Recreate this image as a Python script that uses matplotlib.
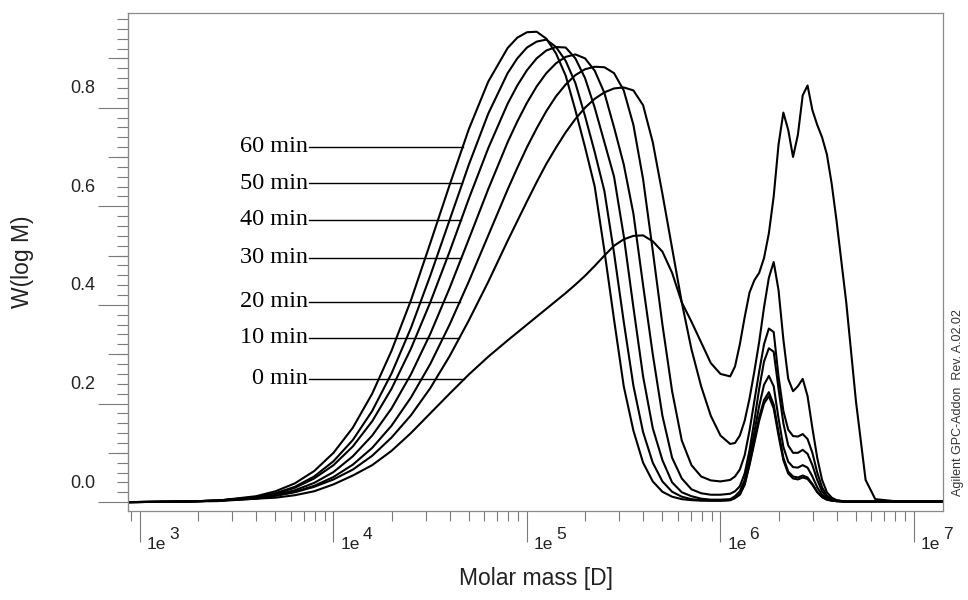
import matplotlib
matplotlib.use("Agg")
import matplotlib.pyplot as plt
import matplotlib.transforms as mtransforms
import numpy as np
from matplotlib.ticker import FixedLocator, LogLocator, MultipleLocator, NullFormatter

# log10 of molar mass, shared by all traces
log_mass = [
    2.94, 3.2, 3.4, 3.6, 3.7, 3.8, 3.9, 4.0, 4.1, 4.2, 4.3, 4.4, 4.5, 4.6, 4.7, 4.8, 4.9,
    4.95, 5.0, 5.05, 5.1, 5.15, 5.2, 5.25, 5.3, 5.35, 5.4, 5.45, 5.5, 5.55, 5.6, 5.65,
    5.7, 5.75, 5.8, 5.85, 5.9, 5.95, 6.0, 6.05,
    6.075, 6.1, 6.125, 6.15, 6.175, 6.2, 6.225, 6.25, 6.275, 6.3, 6.325, 6.35, 6.375,
    6.4, 6.425, 6.45, 6.475, 6.5, 6.525, 6.55, 6.575, 6.6,
    6.65, 6.7, 6.75, 6.8, 6.9, 7.15,
]

w_60 = [
    .000, .001, .003, .012, .022, .038, .063, .100, .151, .220, .307, .409, .525, .643, .757, .853, .921,
    .942, .953, .954, .940, .910, .865, .795, .720, .640, .510, .370, .235, .145, .080, .042,
    .021, .011, .006, .004, .003, .003, .003, .004,
    .008, .015, .035, .075, .120, .165, .200, .215, .190, .135, .085, .058, .048,
    .046, .050, .047, .035, .020, .010, .005, .003, .002,
    .001, .001, .001, .001, .001, .001,
]
w_50 = [
    .000, .001, .003, .010, .018, .031, .052, .083, .126, .185, .261, .353, .459, .572, .685, .788, .870,
    .900, .922, .934, .938, .923, .895, .850, .783, .710, .631, .505, .366, .236, .142, .080,
    .042, .021, .011, .006, .004, .003, .003, .004,
    .009, .016, .037, .078, .125, .172, .207, .223, .198, .142, .090, .062, .052,
    .050, .054, .050, .037, .021, .011, .005, .003, .002,
    .001, .001, .001, .001, .001, .001,
]
w_40 = [
    .000, .001, .003, .010, .017, .029, .048, .075, .113, .164, .230, .311, .405, .508, .616, .718, .808,
    .845, .876, .900, .916, .923, .922, .900, .860, .800, .730, .660, .540, .395, .255, .150,
    .085, .040, .020, .012, .007, .005, .005, .006,
    .012, .022, .045, .090, .142, .195, .238, .256, .235, .170, .112, .082, .071,
    .070, .075, .070, .052, .030, .015, .007, .004, .002,
    .001, .001, .001, .001, .001, .001,
]
w_30 = [
    .000, .001, .003, .008, .015, .024, .039, .061, .093, .135, .190, .259, .341, .434, .534, .635, .730,
    .772, .810, .843, .870, .890, .903, .908, .900, .875, .830, .760, .685, .585, .440, .300,
    .175, .090, .048, .026, .018, .015, .015, .017,
    .022, .032, .058, .105, .165, .230, .285, .312, .305, .230, .160, .115, .100,
    .100, .106, .098, .075, .045, .022, .010, .005, .003,
    .001, .001, .001, .001, .001, .001,
]
w_20 = [
    .000, .001, .002, .007, .013, .021, .033, .051, .076, .110, .155, .212, .280, .360, .448, .541, .634,
    .678, .720, .758, .793, .823, .847, .866, .878, .883, .882, .870, .835, .765, .655, .510,
    .360, .225, .125, .075, .052, .044, .042, .045,
    .052, .066, .095, .145, .205, .265, .320, .352, .345, .255, .185, .147, .134,
    .133, .138, .128, .100, .060, .030, .013, .006, .003,
    .001, .001, .001, .001, .001, .001,
]
w_10 = [
    .000, .001, .003, .008, .013, .020, .031, .046, .066, .094, .131, .176, .231, .296, .369, .447, .530,
    .570, .610, .649, .686, .719, .750, .777, .800, .818, .831, .839, .841, .835, .805, .730,
    .625, .515, .405, .310, .235, .175, .135, .118,
    .120, .135, .165, .210, .265, .325, .395, .455, .487, .430, .330, .250, .225,
    .235, .250, .215, .150, .090, .045, .020, .009, .004,
    .001, .001, .001, .001, .001, .001,
]
w_0 = [
    .000, .001, .003, .007, .009, .014, .022, .036, .054, .075, .104, .140, .180, .220, .259, .295, .328,
    .344, .360, .376, .392, .408, .424, .441, .459, .479, .500, .520, .533, .540, .541, .529,
    .508, .465, .405, .366, .324, .282, .260, .255,
    .275, .320, .375, .425, .450, .465, .495, .545, .620, .725, .790, .755, .700,
    .745, .825, .845, .795, .765, .740, .705, .645, .570,
    .405, .205, .045, .006, .002, .001,
]

curve_names = ["60 min", "50 min", "40 min", "30 min", "20 min", "10 min", "0 min"]
curve_values = [w_60, w_50, w_40, w_30, w_20, w_10, w_0]
label_heights = [0.721, 0.647, 0.573, 0.495, 0.406, 0.333, 0.250]

decades = [3, 4, 5, 6, 7]
y_major = [0.0, 0.2, 0.4, 0.6, 0.8]
y_medium = [0.1, 0.3, 0.5, 0.7, 0.9]

sans = ["Liberation Sans", "DejaVu Sans"]
serif = ["Liberation Serif", "DejaVu Serif"]
tick_grey = "#7a7a7a"

fig = plt.figure(figsize=(9.68, 6.0), dpi=100)
ax = fig.add_axes([128 / 968, 1 - 511 / 600, 815 / 968, (511 - 13) / 600])

mass = 10 ** np.array(log_mass)
for name, vals, ly in zip(curve_names, curve_values, label_heights):
    vals = np.array(vals)
    ax.plot(mass, vals, color="black", lw=1.5, solid_joinstyle="round")
    # leader line from the label to the rising flank of its own trace
    top = int(np.argmax(vals))
    x_end = np.interp(ly, vals[:top + 1], np.array(log_mass)[:top + 1])
    ax.plot([10 ** 3.872, 10 ** x_end], [ly, ly], color="black", lw=1.0)
    ax.text(10 ** 3.868, ly - 0.011, name, ha="right", va="baseline",
            fontsize=17.5, family=serif, color="black")

ax.set_xscale("log")
ax.set_xlim(10 ** 2.938, 10 ** 7.15)
ax.set_ylim(-0.018, 0.992)

ax.xaxis.set_major_locator(FixedLocator([10.0 ** d for d in decades]))
ax.xaxis.set_minor_locator(LogLocator(base=10, subs=np.arange(2, 10), numticks=30))
ax.xaxis.set_major_formatter(NullFormatter())
ax.xaxis.set_minor_formatter(NullFormatter())
ax.yaxis.set_major_locator(FixedLocator(y_major))
ax.yaxis.set_minor_locator(MultipleLocator(0.02))
ax.yaxis.set_major_formatter(NullFormatter())

ax.tick_params(axis="x", which="major", length=22, width=0.8, color=tick_grey)
ax.tick_params(axis="x", which="minor", length=7.2, width=0.8, color=tick_grey)
ax.tick_params(axis="y", which="major", length=21.6, width=0.8, color=tick_grey)
ax.tick_params(axis="y", which="minor", length=7.9, width=0.8, color=tick_grey)
for sp in ax.spines.values():
    sp.set_color("#8a8a8a")
    sp.set_linewidth(0.9)

sec = ax.secondary_yaxis("left")
sec.yaxis.set_major_locator(FixedLocator(y_medium))
sec.yaxis.set_major_formatter(NullFormatter())
sec.tick_params(length=14.4, width=0.8, color=tick_grey)
sec.spines["left"].set_color("#8a8a8a")

# tick labels in the instrument-software style: y labels sit above their ticks,
# x labels are "1e" plus a raised exponent to the right of each decade tick
ylab_tr = mtransforms.offset_copy(ax.get_yaxis_transform(), fig=fig, x=-33, y=19, units="dots")
for v in y_major:
    ax.text(0, v, f"{v:.1f}", transform=ylab_tr, ha="right", va="center",
            fontsize=13, family=sans, color="#222222")

base_tr = mtransforms.offset_copy(ax.get_xaxis_transform(), fig=fig, x=7, y=-38, units="dots")
exp_tr = mtransforms.offset_copy(ax.get_xaxis_transform(), fig=fig, x=29, y=-28, units="dots")
for d in decades:
    ax.text(10.0 ** d, 0, "1e", transform=base_tr, ha="left", va="baseline",
            fontsize=12.5, family=sans, color="#222222")
    ax.text(10.0 ** d, 0, str(d), transform=exp_tr, ha="left", va="baseline",
            fontsize=12.5, family=sans, color="#222222")

fig.text(536 / 968, 1 - 578 / 600, "Molar mass [D]", ha="center", va="center",
         fontsize=16.5, family=sans, color="#222222")
fig.text(23 / 968, 1 - 262 / 600, "W(log M)", ha="center", va="center", rotation=90,
         fontsize=16.5, family=sans, color="#222222")
fig.text(958 / 968, 1 - 403 / 600, "Agilent GPC-Addon  Rev. A.02.02", ha="center",
         va="center", rotation=90, fontsize=9, family=sans, color="#333333")

fig.savefig("out.png", dpi=100)
